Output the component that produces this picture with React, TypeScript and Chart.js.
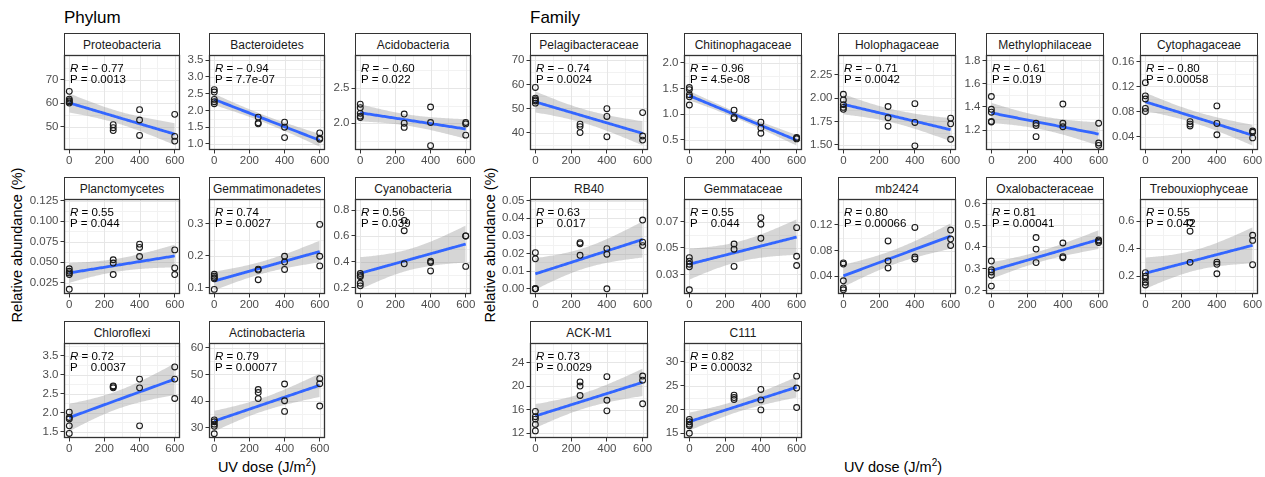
import React, { useEffect, useRef } from 'react';
import { Chart, registerables } from 'chart.js';
Chart.register(...registerables);

const FONT = '"Liberation Sans", Arial, Helvetica, sans-serif';
Chart.defaults.font.family = FONT;

// ---------- data ----------
const doses = [0, 250, 400, 600];
const xTicks = [0, 200, 400, 600];
const xRange = [-30, 630];

// Phylum (values grouped by dose 0 / 250 / 400 / 600)
const proteobacteria = [[65, 61.7, 61, 60.5, 60], [50.8, 49.5, 48.3], [57.2, 52.8, 46.2], [55.2, 45.8, 43.8]];
const bacteroidetes = [[2.62, 2.55, 2.33, 2.26, 2.2], [1.8, 1.63, 1.6], [1.65, 1.5, 1.19], [1.33, 1.17, 1.14]];
const acidobacteria = [[2.27, 2.22, 2.14, 2.1, 2.08], [2.13, 2.0, 1.94], [2.23, 2.01, 1.68], [2.01, 1.99, 1.83]];
const planctomycetes = [[0.042, 0.039, 0.037, 0.035, 0.017], [0.053, 0.049, 0.035], [0.072, 0.068, 0.057], [0.065, 0.043, 0.035]];
const gemmatimonadetes = [[0.142, 0.136, 0.131, 0.128, 0.095], [0.158, 0.155, 0.125], [0.198, 0.18, 0.157], [0.297, 0.198, 0.168]];
const cyanobacteria = [[0.31, 0.295, 0.285, 0.235, 0.215], [0.72, 0.64, 0.385], [0.405, 0.395, 0.33], [0.6, 0.6, 0.365]];
const chloroflexi = [[2.01, 1.87, 1.83, 1.65, 1.45], [2.7, 2.68, 2.65], [2.88, 2.65, 1.65], [3.2, 2.88, 2.37]];
const actinobacteria = [[32.9, 32.2, 31.3, 30.5, 27.7], [44.3, 43.2, 40.9], [46.4, 40.1, 36.1], [48.4, 46.5, 38.1]];

// Family
const pelagibacteraceae = [[58.7, 54.3, 53.6, 53.1, 52.2], [43.5, 42.5, 40], [49.9, 46.7, 38.3], [48.3, 38.6, 36.9]];
const chitinophagaceae = [[1.52, 1.48, 1.38, 1.34, 1.18], [1.08, 0.94, 0.915], [0.845, 0.73, 0.63], [0.55, 0.535, 0.52]];
const holophagaceae = [[2.04, 1.98, 1.93, 1.9, 1.88], [1.91, 1.79, 1.7], [1.94, 1.74, 1.49], [1.785, 1.725, 1.56]];
const methylophilaceae = [[1.49, 1.38, 1.355, 1.275, 1.27], [1.26, 1.24, 1.145], [1.425, 1.26, 1.23], [1.26, 1.09, 1.07]];
const cytophagaceae = [[0.126, 0.105, 0.1, 0.085, 0.08], [0.064, 0.06, 0.057], [0.089, 0.061, 0.043], [0.049, 0.047, 0.038]];
const rb40 = [[0.0205, 0.017, 0, 0, 0], [0.0262, 0.0255, 0.019], [0.0228, 0.0196, 0], [0.039, 0.0265, 0.0245]];
const gemmataceae = [[0.0427, 0.04, 0.0377, 0.0357, 0.0183], [0.053, 0.049, 0.036], [0.073, 0.068, 0.0573], [0.0654, 0.0437, 0.0367]];
const mb2424 = [[0.061, 0.059, 0.033, 0.022, 0.019], [0.095, 0.064, 0.053], [0.116, 0.07, 0.067], [0.112, 0.098, 0.088]];
const oxalobacteraceae = [[0.335, 0.295, 0.285, 0.27, 0.22], [0.443, 0.39, 0.328], [0.418, 0.355, 0.35], [0.432, 0.427, 0.42]];
const trebouxiophyceae = [[0.225, 0.2, 0.185, 0.155, 0.135], [0.59, 0.527, 0.3], [0.302, 0.286, 0.217], [0.497, 0.46, 0.283]];
const ackM1 = [[15.7, 14.8, 14.4, 13.5, 12.4], [20.7, 20, 18.4], [21.6, 17.6, 15.8], [21.7, 21, 17]];
const c111 = [[17.9, 17.4, 16.9, 16.6, 15], [23, 22.5, 22.1], [24.2, 22, 19.9], [27, 24.5, 20.4]];

const phylumNames = ['Proteobacteria', 'Bacteroidetes', 'Acidobacteria', 'Planctomycetes', 'Gemmatimonadetes', 'Cyanobacteria', 'Chloroflexi', 'Actinobacteria'];
const phylumValues = [proteobacteria, bacteroidetes, acidobacteria, planctomycetes, gemmatimonadetes, cyanobacteria, chloroflexi, actinobacteria];
const phylumR = [-0.77, -0.94, -0.6, 0.55, 0.74, 0.56, 0.72, 0.79];
const phylumP = ['0.0013', '7.7e-07', '0.022', '0.044', '0.0027', '0.039', '0.0037', '0.00077'];
const phylumYTicks = [[50, 60, 70], [1, 1.5, 2, 2.5, 3, 3.5], [2, 2.5], [0.025, 0.05, 0.075, 0.1, 0.125], [0.1, 0.2, 0.3], [0.2, 0.4, 0.6, 0.8], [1.5, 2, 2.5, 3, 3.5], [30, 40, 50, 60]];
const phylumYRange = [[40, 80.5], [0.82, 3.655], [1.619, 2.969], [0.0113, 0.127], [0.0807, 0.376], [0.152, 0.885], [1.33, 3.83], [26.1, 61.8]];

const familyNames = ['Pelagibacteraceae', 'Chitinophagaceae', 'Holophagaceae', 'Methylophilaceae', 'Cytophagaceae', 'RB40', 'Gemmataceae', 'mb2424', 'Oxalobacteraceae', 'Trebouxiophyceae', 'ACK-M1', 'C111'];
const familyValues = [pelagibacteraceae, chitinophagaceae, holophagaceae, methylophilaceae, cytophagaceae, rb40, gemmataceae, mb2424, oxalobacteraceae, trebouxiophyceae, ackM1, c111];
const familyR = [-0.74, -0.96, -0.71, -0.61, -0.8, 0.63, 0.55, 0.8, 0.81, 0.55, 0.73, 0.82];
const familyP = ['0.0024', '4.5e-08', '0.0042', '0.019', '0.00058', '0.017', '0.044', '0.00066', '0.00041', '0.042', '0.0029', '0.00032'];
const familyYTicks = [[40, 50, 60, 70], [0.5, 1, 1.5, 2], [1.5, 1.75, 2, 2.25], [1.2, 1.4, 1.6, 1.8], [0.04, 0.08, 0.12, 0.16], [0, 0.01, 0.02, 0.03, 0.04, 0.05], [0.03, 0.05, 0.07], [0.04, 0.08, 0.12], [0.2, 0.3, 0.4, 0.5, 0.6], [0.2, 0.4, 0.6], [12, 16, 20, 24], [15, 20, 25, 30]];
const familyYRange = [[32.8, 72.15], [0.304, 2.154], [1.446, 2.459], [1.03, 1.847], [0.0187, 0.1701], [-0.00295, 0.05095], [0.0151, 0.0871], [0.0125, 0.1603], [0.1838, 0.62], [0.0695, 0.7615], [11.2, 27.3], [14.0, 33.96]];
// labels whose "=" is not visible in the P line
const hiddenEq = ['Chloroflexi', 'RB40', 'Gemmataceae'];

// ---------- layout ----------
const AXW = 44, PADT = 10, PADR = 16, AXH = 22;
const STRIP_H = 22;
const ROW_TOP = [55, 199, 343];
const PLOT_H = 95;
const PHY_LEFT = [64, 209, 355];
const PHY_W = 116;
const FAM_LEFT = [530, 684, 838, 986, 1140];
const FAM_W = 118;

const T975: Record<number, number> = { 9: 2.262, 10: 2.228, 11: 2.201, 12: 2.179, 13: 2.16, 14: 2.145 };

function fitBand(values: number[][]) {
  const xs: number[] = [];
  const ys: number[] = [];
  values.forEach((g, i) => g.forEach((v) => { xs.push(doses[i]); ys.push(v); }));
  const n = xs.length;
  const mx = xs.reduce((a, b) => a + b, 0) / n;
  const my = ys.reduce((a, b) => a + b, 0) / n;
  let sxx = 0, sxy = 0;
  for (let i = 0; i < n; i++) { sxx += (xs[i] - mx) ** 2; sxy += (xs[i] - mx) * (ys[i] - my); }
  const b = sxy / sxx;
  const a = my - b * mx;
  let sse = 0;
  for (let i = 0; i < n; i++) sse += (ys[i] - a - b * xs[i]) ** 2;
  const s = Math.sqrt(sse / (n - 2));
  const t = T975[n - 2] ?? 2.179;
  const line: { x: number; y: number }[] = [];
  const upper: { x: number; y: number }[] = [];
  const lower: { x: number; y: number }[] = [];
  const x0 = doses[0], x1 = doses[doses.length - 1];
  for (let k = 0; k < 80; k++) {
    const x = x0 + ((x1 - x0) * k) / 79;
    const yh = a + b * x;
    const se = s * Math.sqrt(1 / n + (x - mx) ** 2 / sxx);
    line.push({ x, y: yh });
    upper.push({ x, y: yh + t * se });
    lower.push({ x, y: yh - t * se });
  }
  return { points: xs.map((x, i) => ({ x, y: ys[i] })), line, upper, lower };
}

function decimals(ticks: number[]) {
  let d = 0;
  ticks.forEach((v) => {
    const s = String(v);
    const i = s.indexOf('.');
    if (i >= 0) d = Math.max(d, s.length - i - 1);
  });
  return d;
}

function minorsOf(ticks: number[], min: number, max: number) {
  const step = ticks[1] - ticks[0];
  const out: number[] = [];
  out.push(ticks[0] - step / 2);
  for (let i = 0; i < ticks.length - 1; i++) out.push((ticks[i] + ticks[i + 1]) / 2);
  out.push(ticks[ticks.length - 1] + step / 2);
  return out.filter((v) => v >= min && v <= max);
}

type PanelCfg = {
  name: string;
  values: number[][];
  yTicks: number[];
  yRange: number[];
  r: number;
  p: string;
  left: number;
  top: number;
  width: number;
};

const panels: PanelCfg[] = [];
phylumNames.forEach((name, i) => {
  panels.push({
    name, values: phylumValues[i], yTicks: phylumYTicks[i], yRange: phylumYRange[i], r: phylumR[i], p: phylumP[i],
    left: PHY_LEFT[i % 3], top: ROW_TOP[Math.floor(i / 3)], width: PHY_W,
  });
});
familyNames.forEach((name, i) => {
  panels.push({
    name, values: familyValues[i], yTicks: familyYTicks[i], yRange: familyYRange[i], r: familyR[i], p: familyP[i],
    left: FAM_LEFT[i % 5], top: ROW_TOP[Math.floor(i / 5)], width: FAM_W,
  });
});

function Panel({ cfg }: { cfg: PanelCfg }) {
  const ref = useRef<HTMLCanvasElement>(null);
  const cw = AXW + cfg.width + PADR;
  const ch = PADT + PLOT_H + AXH;

  useEffect(() => {
    if (!ref.current) return;
    const fit = fitBand(cfg.values);
    const dec = decimals(cfg.yTicks);
    const [ymin, ymax] = cfg.yRange;
    const yMinor = minorsOf(cfg.yTicks, ymin, ymax);
    const xMinor = minorsOf(xTicks, xRange[0], xRange[1]);
    const hide = hiddenEq.includes(cfg.name);
    const rText = cfg.r < 0 ? '\u2212 ' + Math.abs(cfg.r).toFixed(2) : cfg.r.toFixed(2);

    const deco = {
      id: 'deco',
      beforeDatasetsDraw(chart: any) {
        const { ctx, chartArea: a, scales } = chart;
        const xs = scales.x, ys = scales.y;
        ctx.save();
        ctx.fillStyle = '#FFFFFF';
        ctx.fillRect(a.left, a.top, a.right - a.left, a.bottom - a.top);
        const vline = (v: number, color: string, w: number) => {
          const px = Math.round(xs.getPixelForValue(v)) + 0.5;
          ctx.strokeStyle = color; ctx.lineWidth = w;
          ctx.beginPath(); ctx.moveTo(px, a.top); ctx.lineTo(px, a.bottom); ctx.stroke();
        };
        const hline = (v: number, color: string, w: number) => {
          const py = Math.round(ys.getPixelForValue(v)) + 0.5;
          ctx.strokeStyle = color; ctx.lineWidth = w;
          ctx.beginPath(); ctx.moveTo(a.left, py); ctx.lineTo(a.right, py); ctx.stroke();
        };
        xMinor.forEach((v) => vline(v, '#F2F2F2', 1));
        yMinor.forEach((v) => hline(v, '#F2F2F2', 1));
        xTicks.forEach((v) => vline(v, '#E6E6E6', 1));
        cfg.yTicks.forEach((v) => hline(v, '#E6E6E6', 1));
        ctx.restore();
      },
      afterDatasetsDraw(chart: any) {
        const { ctx, chartArea: a } = chart;
        ctx.save();
        ctx.fillStyle = '#000000';
        ctx.textBaseline = 'middle';
        ctx.textAlign = 'left';
        const x0 = a.left + 6;
        const y1 = a.top + 14;
        const y2 = a.top + 25;
        ctx.font = `italic 11.5px ${FONT}`;
        ctx.fillText('R', x0, y1);
        const rw = ctx.measureText('R').width;
        ctx.font = `11.5px ${FONT}`;
        ctx.fillText(' = ' + rText, x0 + rw, y1);
        if (hide) {
          ctx.fillText('P', x0, y2);
          const w = ctx.measureText('P = ').width;
          ctx.fillText(cfg.p, x0 + w, y2);
        } else {
          ctx.fillText('P = ' + cfg.p, x0, y2);
        }
        ctx.strokeStyle = '#333333';
        ctx.lineWidth = 1.3;
        ctx.strokeRect(a.left + 0.5, a.top + 0.5, a.right - a.left - 1, a.bottom - a.top - 1);
        ctx.restore();
      },
    };

    const tickFont = { size: 11.5, family: FONT };
    const chart = new Chart(ref.current, {
      type: 'scatter',
      data: {
        datasets: [
          { type: 'line', data: fit.upper, borderWidth: 0, borderColor: 'rgba(0,0,0,0)', pointRadius: 0, fill: 1, backgroundColor: 'rgba(153,153,153,0.4)', order: 3 } as any,
          { type: 'line', data: fit.lower, borderWidth: 0, borderColor: 'rgba(0,0,0,0)', pointRadius: 0, fill: false, order: 4 } as any,
          { type: 'line', data: fit.line, borderColor: '#3366FF', borderWidth: 2.8, pointRadius: 0, fill: false, order: 2 } as any,
          { type: 'scatter', data: fit.points, pointRadius: 2.9, pointBorderWidth: 1.1, borderColor: '#1A1A1A', pointBorderColor: '#1A1A1A', backgroundColor: 'rgba(0,0,0,0)', pointBackgroundColor: 'rgba(0,0,0,0)', order: 1 } as any,
        ],
      },
      options: {
        animation: false,
        responsive: false,
        maintainAspectRatio: false,
        events: [],
        layout: { padding: { top: PADT, right: PADR, left: 0, bottom: 0 } },
        plugins: { legend: { display: false }, tooltip: { enabled: false } },
        scales: {
          x: {
            type: 'linear', min: xRange[0], max: xRange[1],
            afterBuildTicks: (s: any) => { s.ticks = xTicks.map((v) => ({ value: v })); },
            afterFit: (s: any) => { s.height = AXH; },
            ticks: { font: tickFont, color: '#4D4D4D', padding: 0, maxRotation: 0, autoSkip: false, callback: (v: any) => String(v) },
            grid: { drawOnChartArea: false, drawTicks: true, tickLength: 3.5, tickColor: '#333333', tickWidth: 1 },
            border: { display: false },
          },
          y: {
            type: 'linear', min: ymin, max: ymax,
            afterBuildTicks: (s: any) => { s.ticks = cfg.yTicks.map((v) => ({ value: v })); },
            afterFit: (s: any) => { s.width = AXW; },
            ticks: { font: tickFont, color: '#4D4D4D', padding: 2, autoSkip: false, callback: (v: any) => Number(v).toFixed(dec) },
            grid: { drawOnChartArea: false, drawTicks: true, tickLength: 3.5, tickColor: '#333333', tickWidth: 1 },
            border: { display: false },
          },
        },
      } as any,
      plugins: [deco],
    });
    return () => chart.destroy();
  }, [cfg]);

  return (
    <>
      <div
        style={{
          position: 'absolute', left: cfg.left, top: cfg.top - STRIP_H, width: cfg.width, height: STRIP_H + 1,
          boxSizing: 'border-box', border: '1.3px solid #333', background: '#fff',
          display: 'flex', alignItems: 'center', justifyContent: 'center',
          font: `12px ${FONT}`, color: '#1A1A1A', whiteSpace: 'nowrap',
        }}
      >
        {cfg.name}
      </div>
      <canvas
        ref={ref}
        width={cw}
        height={ch}
        style={{ position: 'absolute', left: cfg.left - AXW, top: cfg.top - PADT, width: cw, height: ch }}
      />
    </>
  );
}

const titleStyle: React.CSSProperties = { position: 'absolute', font: `17px ${FONT}`, lineHeight: '17px', color: '#000', whiteSpace: 'nowrap' };
const axisTitle: React.CSSProperties = { position: 'absolute', font: `14.5px ${FONT}`, lineHeight: '16px', color: '#000', whiteSpace: 'nowrap' };

export default function App() {
  return (
    <div style={{ position: 'absolute', left: 0, top: 0, width: 1265, height: 477, background: '#fff', overflow: 'hidden' }}>
      <div style={{ ...titleStyle, left: 64, top: 9 }}>Phylum</div>
      <div style={{ ...titleStyle, left: 530, top: 9 }}>Family</div>
      <div style={{ ...axisTitle, left: 17, top: 245, transform: 'translate(-50%, -50%) rotate(-90deg)' }}>Relative abundance (%)</div>
      <div style={{ ...axisTitle, left: 490, top: 245, transform: 'translate(-50%, -50%) rotate(-90deg)' }}>Relative abundance (%)</div>
      <div style={{ ...axisTitle, left: 267, top: 467, transform: 'translate(-50%, -50%)' }}>
        UV dose (J/m<sup style={{ fontSize: '10px', lineHeight: 0 }}>2</sup>)
      </div>
      <div style={{ ...axisTitle, left: 893, top: 467, transform: 'translate(-50%, -50%)' }}>
        UV dose (J/m<sup style={{ fontSize: '10px', lineHeight: 0 }}>2</sup>)
      </div>
      {panels.map((p) => (
        <Panel key={p.name} cfg={p} />
      ))}
    </div>
  );
}
